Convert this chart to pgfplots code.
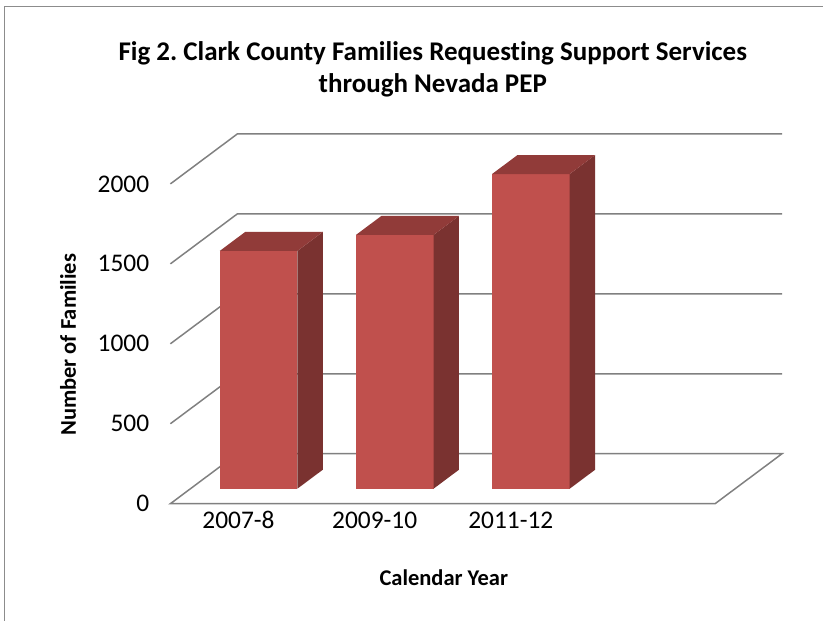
\documentclass[border=0pt]{standalone}
\usepackage{fontspec}
\setmainfont{Carlito}[Ligatures={NoCommon,NoRare,NoContextual}]
\usepackage{pgfplots}
\pgfplotsset{compat=1.18}
\usetikzlibrary{calc}
\frenchspacing
\definecolor{barfront}{HTML}{C0504D}
\definecolor{barside}{HTML}{7A3230}
\definecolor{bartop}{HTML}{913B39}
\definecolor{gridgray}{HTML}{808080}
\definecolor{bordergray}{HTML}{8C8C8C}
\newcommand\ticksize{\fontsize{25.4bp}{30bp}\selectfont}
\newcommand\titlesize{\fontsize{27bp}{32bp}\selectfont\bfseries}
\newcommand\labelsize{\fontsize{22.5bp}{27bp}\selectfont\bfseries}
\begin{document}
\begin{tikzpicture}
\begin{axis}[
  x={(136.25bp,0bp)}, y={(67bp,50bp)}, z={(0bp,0.16bp)},
  xmin=0, xmax=4, ymin=0, ymax=1, zmin=0, zmax=2000,
  hide axis, clip=false,
  gridl/.style={gridgray, line width=1.5bp, no marks},
  bfront/.style={fill=barfront, draw=none, no marks},
  bside/.style={fill=barside, draw=none, no marks},
  btop/.style={fill=bartop, draw=none, no marks},
]
\coordinate (O) at (axis cs:0,0,0);
% gridlines (left wall + back wall)
\addplot3[gridl] coordinates {(0,0,500) (0,1,500) (4,1,500)};
\addplot3[gridl] coordinates {(0,0,1000) (0,1,1000) (4,1,1000)};
\addplot3[gridl] coordinates {(0,0,1500) (0,1,1500) (4,1,1500)};
\addplot3[gridl] coordinates {(0,0,2000) (0,1,2000) (4,1,2000)};
% floor
\addplot3[gridl] coordinates {(0,0,0) (4,0,0) (4,1,0) (0,1,0)} -- cycle;
% bar 1: 2007-8
\addplot3[bfront] coordinates {(0.215,0.3,0) (0.785,0.3,0) (0.785,0.3,1487) (0.215,0.3,1487)} -- cycle;
\addplot3[bside] coordinates {(0.785,0.3,0) (0.785,0.68,0) (0.785,0.68,1487) (0.785,0.3,1487)} -- cycle;
\addplot3[btop] coordinates {(0.215,0.3,1487) (0.785,0.3,1487) (0.785,0.68,1487) (0.215,0.68,1487)} -- cycle;
% bar 2: 2009-10
\addplot3[bfront] coordinates {(1.215,0.3,0) (1.785,0.3,0) (1.785,0.3,1587) (1.215,0.3,1587)} -- cycle;
\addplot3[bside] coordinates {(1.785,0.3,0) (1.785,0.68,0) (1.785,0.68,1587) (1.785,0.3,1587)} -- cycle;
\addplot3[btop] coordinates {(1.215,0.3,1587) (1.785,0.3,1587) (1.785,0.68,1587) (1.215,0.68,1587)} -- cycle;
% bar 3: 2011-12
\addplot3[bfront] coordinates {(2.215,0.3,0) (2.785,0.3,0) (2.785,0.3,1968) (2.215,0.3,1968)} -- cycle;
\addplot3[bside] coordinates {(2.785,0.3,0) (2.785,0.68,0) (2.785,0.68,1968) (2.785,0.3,1968)} -- cycle;
\addplot3[btop] coordinates {(2.215,0.3,1968) (2.785,0.3,1968) (2.785,0.68,1968) (2.215,0.68,1968)} -- cycle;
% value tick labels
\node[anchor=east, xshift=-21bp, inner sep=0pt, font=\ticksize] at (axis cs:0,0,0) {0};
\node[anchor=east, xshift=-21bp, inner sep=0pt, font=\ticksize] at (axis cs:0,0,500) {500};
\node[anchor=east, xshift=-21bp, inner sep=0pt, font=\ticksize] at (axis cs:0,0,1000) {1000};
\node[anchor=east, xshift=-21bp, inner sep=0pt, font=\ticksize] at (axis cs:0,0,1500) {1500};
\node[anchor=east, xshift=-21bp, inner sep=0pt, font=\ticksize] at (axis cs:0,0,2000) {2000};
% category tick labels
\node[anchor=base, yshift=-25bp, inner sep=0pt, font=\ticksize] at (axis cs:0.5,0,0) {2007-8};
\node[anchor=base, yshift=-25bp, inner sep=0pt, font=\ticksize] at (axis cs:1.5,0,0) {2009-10};
\node[anchor=base, yshift=-25bp, inner sep=0pt, font=\ticksize] at (axis cs:2.5,0,0) {2011-12};
\end{axis}
\begin{scope}[shift={(O)}]
  \path (-170.5bp,504bp) rectangle (652.5bp,-117bp);
  \draw[bordergray, line width=1bp] (-165.5bp,-117bp) -- (-165.5bp,497bp) -- (652.5bp,497bp);
  \node[anchor=base, inner sep=0pt, font=\titlesize] at (262.5bp,443bp) {Fig 2. Clark County Families Requesting Support Services};
  \node[anchor=base, inner sep=0pt, font=\titlesize] at (262.5bp,411bp) {through Nevada PEP};
  \node[rotate=90, inner sep=0pt, font=\labelsize] at (-102.5bp,159bp) {Number of Families};
  \node[inner sep=0pt, font=\labelsize] at (273.5bp,-74bp) {Calendar Year};
\end{scope}
\end{tikzpicture}
\end{document}
